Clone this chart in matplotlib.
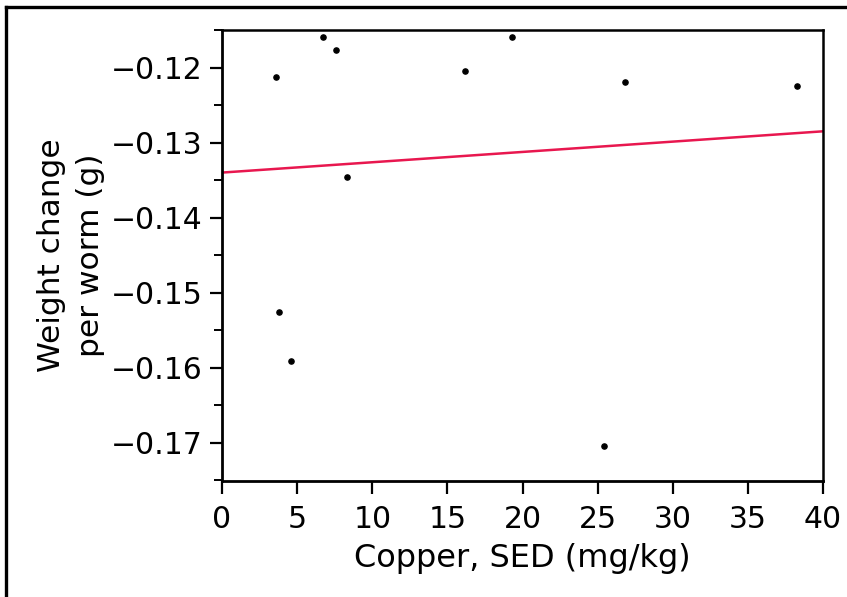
import numpy as np
import matplotlib.pyplot as plt
from matplotlib.lines import Line2D

# data
copper = [3.6, 6.7, 7.6, 8.3, 16.2, 19.3, 26.8, 38.3, 3.8, 4.6, 25.4]
weight = [-0.1212, -0.1159, -0.1177, -0.1346, -0.1205, -0.1159, -0.1219, -0.1225,
          -0.1526, -0.1591, -0.1705]
fit_x = [0, 40]
fit_y = [-0.1340, -0.1285]

plt.rcParams['font.family'] = ['DejaVu Sans']

fig = plt.figure(figsize=(8.47, 5.97), dpi=100)
ax = fig.add_axes([222 / 847, 1 - 481 / 597, 601 / 847, 451 / 597])

ax.plot(fit_x, fit_y, color='#e8174f', linewidth=1.8, zorder=2)
ax.scatter(copper, weight, s=14, color='black', zorder=3)

ax.set_xlim(0, 40)
ax.set_ylim(-0.1751, -0.1151)
ax.set_xticks(np.arange(0, 41, 5))
ax.set_yticks([-0.17, -0.16, -0.15, -0.14, -0.13, -0.12])
ax.set_yticks(np.arange(-0.175, -0.114, 0.005), minor=True)
ax.set_yticklabels(['\u22120.17', '\u22120.16', '\u22120.15', '\u22120.14', '\u22120.13', '\u22120.12'])

ax.tick_params(axis='both', which='major', length=9, width=1.6, labelsize=21.5, color='black')
ax.tick_params(axis='y', which='minor', length=6, width=1.4)
ax.tick_params(axis='x', pad=8)
ax.tick_params(axis='y', pad=5)

for side in ['left', 'bottom']:
    ax.spines[side].set_linewidth(2.0)
for side in ['top', 'right']:
    ax.spines[side].set_linewidth(1.8)

ax.set_xlabel('Copper, SED (mg/kg)', fontsize=23, labelpad=7)
ax.set_ylabel('Weight change\nper worm (g)', fontsize=22.5, labelpad=4, linespacing=1.45)

# outer frame (top and left only)
fig.add_artist(Line2D([6 / 847, 1], [1 - 7 / 597, 1 - 7 / 597], transform=fig.transFigure,
                      color='black', linewidth=2.4))
fig.add_artist(Line2D([6 / 847, 6 / 847], [0, 1 - 7 / 597], transform=fig.transFigure,
                      color='black', linewidth=2.4))

fig.savefig('out.png', dpi=100)
